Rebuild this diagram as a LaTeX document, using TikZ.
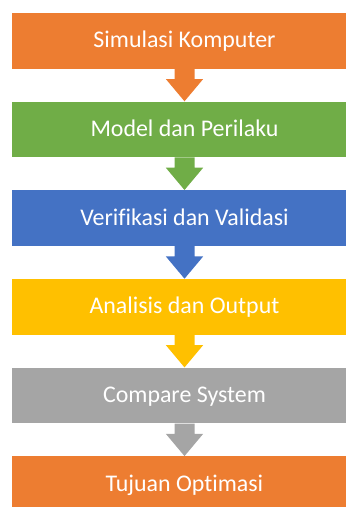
\documentclass[tikz,border=0pt]{standalone}
\usepackage{fontspec}
\setmainfont[Ligatures=NoCommon]{Carlito}
\usetikzlibrary{calc}
\definecolor{cOrange}{HTML}{ED7D31}
\definecolor{cGreen}{HTML}{70AD47}
\definecolor{cBlue}{HTML}{4472C4}
\definecolor{cYellow}{HTML}{FFC000}
\definecolor{cGray}{HTML}{A5A5A5}
\tikzset{
  stepbox/.style={draw=none, fill=#1, minimum width=344.4pt, minimum height=55.7pt,
    inner sep=0pt, text=white, font=\fontsize{23.9}{28}\selectfont,
    text height=14.4pt, text depth=0pt, anchor=north},
}
\newcommand{\downarrowshape}[3]{%
  \fill[#1] ($(#2.south)+(-10,0)$) -- ($(#2.south)+(-10,10.3)$) -- ($(#2.south)+(-18.7,10.3)$)
    -- (#3.north) -- ($(#2.south)+(18.7,10.3)$) -- ($(#2.south)+(10,10.3)$) -- ($(#2.south)+(10,0)$) -- cycle;}
\begin{document}
\begin{tikzpicture}[x=1pt,y=-1pt]
\useasboundingbox (0,0) rectangle (346,507);
\clip (0,0) rectangle (346,507);
\node[stepbox=cOrange] (b1) at (184.5,12.6) {Simulasi Komputer};
\node[stepbox=cGreen] (b2) at (184.5,101.3) {Model dan Perilaku};
\node[stepbox=cBlue] (b3) at (184.5,190.0) {Verifikasi dan Validasi};
\node[stepbox=cYellow] (b4) at (184.5,278.7) {Analisis dan Output};
\node[stepbox=cGray] (b5) at (184.5,367.4) {Compare System};
\node[stepbox=cOrange] (b6) at (184.5,456.1) {Tujuan Optimasi};
\downarrowshape{cOrange}{b1}{b2}
\downarrowshape{cGreen}{b2}{b3}
\downarrowshape{cBlue}{b3}{b4}
\downarrowshape{cYellow}{b4}{b5}
\downarrowshape{cGray}{b5}{b6}
\end{tikzpicture}
\end{document}
